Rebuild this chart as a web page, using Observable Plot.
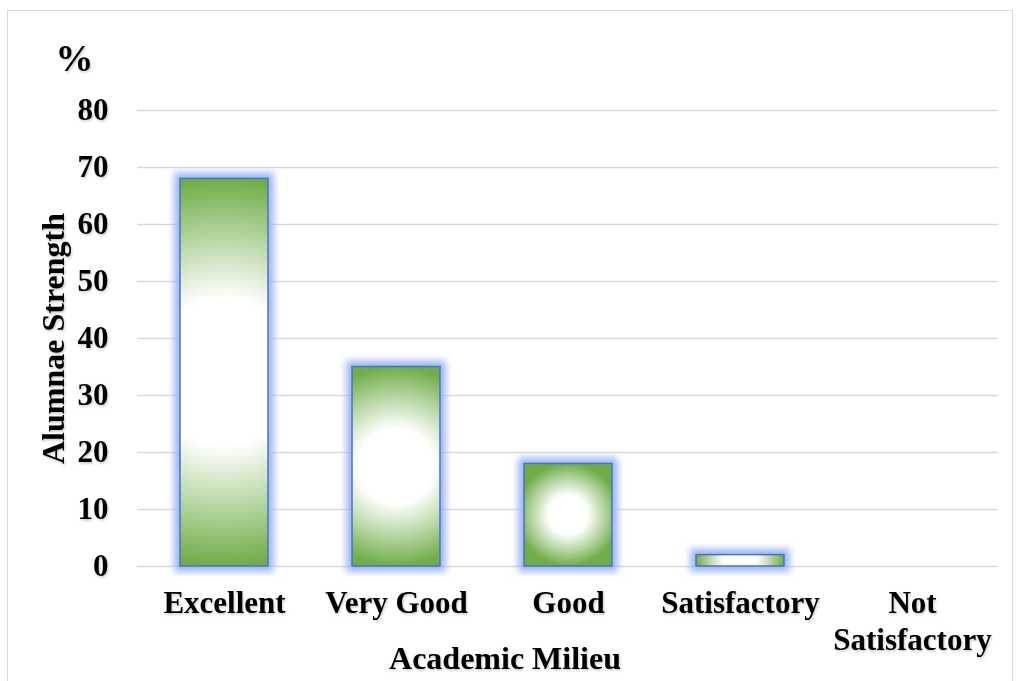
<!DOCTYPE html>
<html>
<head>
<meta charset="utf-8">
<script src="https://cdn.jsdelivr.net/npm/d3@7"></script>
<script src="https://cdn.jsdelivr.net/npm/@observablehq/plot@0.6"></script>
<style>
  html, body { margin: 0; padding: 0; background: #fff; }
  #wrap { position: relative; width: 1016px; height: 681px; overflow: hidden; }
  #frame { position: absolute; left: 7px; top: 10px; width: 1006px; height: 690px; border: 1.5px solid #d9d9d9; box-sizing: border-box; }
  #chart { position: absolute; left: 0; top: 0; }
</style>
</head>
<body>
<div id="wrap"><div id="frame"></div><div id="chart"></div></div>
<script>
const categories = ["Excellent", "Very Good", "Good", "Satisfactory", "Not Satisfactory"];
const values = [68, 35, 18, 2, 0];
const tickLabels = ["Excellent", "Very Good", "Good", "Satisfactory", "Not\nSatisfactory"];
const yTicks = [0, 10, 20, 30, 40, 50, 60, 70, 80];
const yUnit = "%";
const yTitle = "Alumnae Strength";
const xTitle = "Academic Milieu";

const rows = categories.map((c, i) => ({category: c, value: values[i]}));
const serif = "'Liberation Serif','Times New Roman',Times,serif";

const svg = Plot.plot({
  width: 1016,
  height: 681,
  marginLeft: 137,
  marginRight: 18,
  marginTop: 110,
  marginBottom: 115,
  style: {fontFamily: serif, fontSize: "31px", fontWeight: "bold", color: "#000", background: "transparent", overflow: "visible"},
  x: {domain: categories, paddingInner: 0.49, paddingOuter: 0.245, label: null},
  y: {domain: [0, 80], label: null},
  marks: [
    Plot.gridY(yTicks, {stroke: "#d9d9d9", strokeOpacity: 1, strokeWidth: 1.5}),
    Plot.barY(rows, {x: "category", y: "value", fill: "#70AD47", stroke: "#4472C4", strokeWidth: 1.5}),
    Plot.axisY(yTicks, {tickSize: 0, tickPadding: 29, label: null, fontSize: 31, fontWeight: "bold"}),
    Plot.axisX({tickSize: 0, tickPadding: 20, label: null, fontSize: 31, fontWeight: "bold", lineHeight: 1.19,
      tickFormat: d => tickLabels[categories.indexOf(d)]}),
    Plot.text([yUnit], {text: d => d, frameAnchor: "top-left", lineAnchor: "middle", textAnchor: "middle", dx: -63, dy: -52, fontSize: 38}),
    Plot.text([yTitle], {text: d => d, frameAnchor: "left", lineAnchor: "middle", textAnchor: "middle", rotate: -90, dx: -84, fontSize: 32}),
    Plot.text([xTitle], {text: d => d, frameAnchor: "bottom", lineAnchor: "middle", textAnchor: "middle", dx: -63, dy: 92, fontSize: 32})
  ]
});

const NS = "http://www.w3.org/2000/svg";
const defs = document.createElementNS(NS, "defs");
defs.innerHTML = `
  <filter id="glow" filterUnits="userSpaceOnUse" x="-50" y="-50" width="1200" height="800">
    <feMorphology in="SourceAlpha" operator="dilate" radius="5" result="d"/>
    <feGaussianBlur in="d" stdDeviation="3.5" result="b"/>
    <feFlood flood-color="#9bb5f4" flood-opacity="1"/>
    <feComposite in2="b" operator="in" result="g"/>
    <feMerge><feMergeNode in="g"/><feMergeNode in="SourceGraphic"/></feMerge>
  </filter>
  <filter id="tshadow" x="-10%" y="-20%" width="130%" height="160%">
    <feDropShadow dx="1" dy="1.5" stdDeviation="1.2" flood-color="#000" flood-opacity="0.22"/>
  </filter>`;
svg.insertBefore(defs, svg.firstChild);

const barGroup = svg.querySelector("g[aria-label='bar']");
barGroup.setAttribute("filter", "url(#glow)");
barGroup.querySelectorAll("rect").forEach((r, i) => {
  const x = +r.getAttribute("x"), y = +r.getAttribute("y");
  const w = +r.getAttribute("width"), h = +r.getAttribute("height");
  const R = Math.max(w, h) / 2;
  const g = document.createElementNS(NS, "radialGradient");
  g.setAttribute("id", "barGrad" + i);
  g.setAttribute("gradientUnits", "userSpaceOnUse");
  g.setAttribute("cx", x + w / 2);
  g.setAttribute("cy", y + h / 2);
  g.setAttribute("r", R);
  g.innerHTML = `<stop offset="0" stop-color="#ffffff"/><stop offset="0.38" stop-color="#ffffff"/><stop offset="0.7" stop-color="#b6d6a2"/><stop offset="1" stop-color="#70ad47"/>`;
  defs.appendChild(g);
  r.setAttribute("fill", `url(#barGrad${i})`);
});

svg.querySelectorAll("g[aria-label='y-axis tick label'], g[aria-label='x-axis tick label'], g[aria-label='text']")
  .forEach(g => g.setAttribute("filter", "url(#tshadow)"));

document.getElementById("chart").appendChild(svg);
</script>
</body>
</html>
